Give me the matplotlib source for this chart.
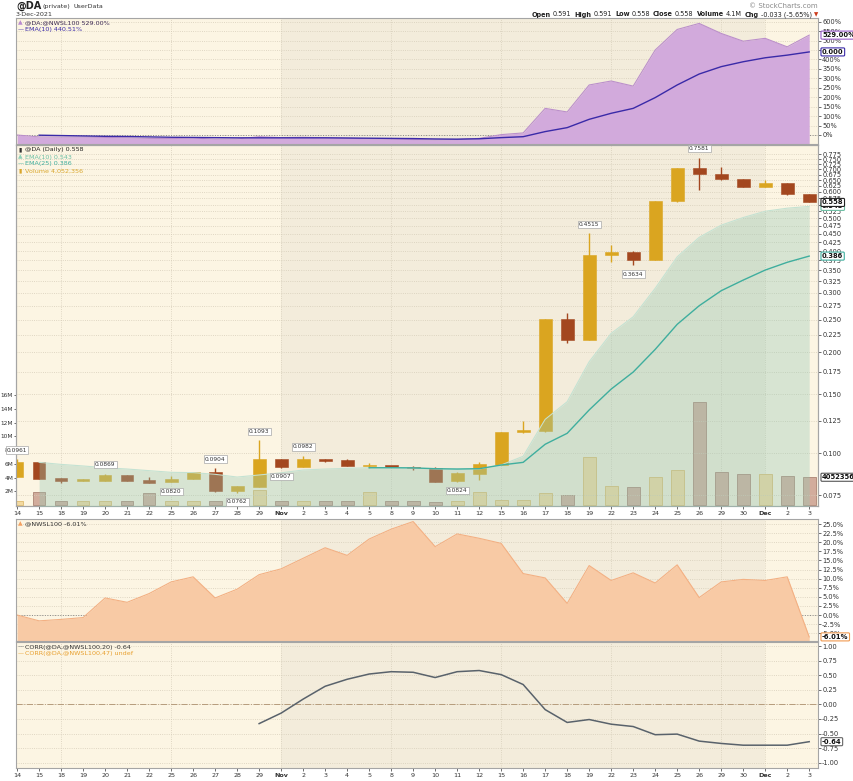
import matplotlib
matplotlib.use('Agg')
import matplotlib.pyplot as plt
import numpy as np
from matplotlib.ticker import NullLocator

plt.rcParams['font.family'] = ['DejaVu Sans']
plt.rcParams['axes.unicode_minus'] = False

W, H = 854, 781
nan = float('nan')

# ---- values ----
days = ['14', '15', '18', '19', '20', '21', '22', '25', '26', '27', '28', '29',
        'Nov', '2', '3', '4', '5', '8', '9', '10', '11', '12', '15', '16', '17', '18', '19',
        '22', '23', '24', '25', '26', '29', '30',
        'Dec', '2', '3']

opens = [0.0852, 0.0944, 0.0843, 0.0829, 0.0829, 0.0862, 0.0833, 0.0821, 0.0838, 0.0878, 0.0770, 0.0796,
         0.0959, 0.0912, 0.0962, 0.0953, 0.0915, 0.0916, 0.0906, 0.0902, 0.0825, 0.0868, 0.0925, 0.1155,
         0.1165, 0.2510, 0.2175, 0.3890, 0.3980, 0.3760, 0.5620, 0.7050, 0.6770, 0.6550,
         0.6200, 0.6360, 0.5910]
highs = [0.0961, 0.0944, 0.0845, 0.0836, 0.0869, 0.0862, 0.0848, 0.0856, 0.0880, 0.0904, 0.0800, 0.1093,
         0.0960, 0.0982, 0.0965, 0.0962, 0.0934, 0.0916, 0.0917, 0.0912, 0.0882, 0.0944, 0.1158, 0.1250,
         0.2515, 0.2620, 0.4515, 0.4170, 0.3990, 0.5640, 0.7070, 0.7581, 0.7130, 0.6560,
         0.6500, 0.6370, 0.5910]
lows = [0.0850, 0.0837, 0.0818, 0.0826, 0.0828, 0.0828, 0.0815, 0.0820, 0.0836, 0.0768, 0.0762, 0.0795,
        0.0907, 0.0910, 0.0942, 0.0916, 0.0905, 0.0909, 0.0893, 0.0823, 0.0824, 0.0833, 0.0923, 0.1152,
        0.1160, 0.2125, 0.2170, 0.3720, 0.3634, 0.3750, 0.5600, 0.6090, 0.6520, 0.6190,
        0.6190, 0.5880, 0.5580]
closes = [0.0944, 0.0837, 0.0829, 0.0832, 0.0862, 0.0829, 0.0818, 0.0838, 0.0878, 0.0770, 0.0799, 0.0959,
          0.0912, 0.0962, 0.0948, 0.0917, 0.0918, 0.0910, 0.0902, 0.0824, 0.0872, 0.0927, 0.1155, 0.1172,
          0.2510, 0.2175, 0.3890, 0.3980, 0.3760, 0.5636, 0.7050, 0.6770, 0.6540, 0.6200,
          0.6360, 0.5920, 0.5580]
volume_m = [0.6, 1.85, 0.55, 0.55, 0.6, 0.55, 1.75, 0.6, 0.6, 0.55, 0.55, 2.2,
            0.6, 0.6, 0.6, 0.6, 1.95, 0.6, 0.6, 0.5, 0.6, 1.9, 0.8, 0.8, 1.7, 1.5, 6.95,
            2.8, 2.6, 4.05, 5.1, 15.0, 4.8, 4.5,
            4.5, 4.25, 4.05]
ema10_price = [nan, 0.0940, 0.0927, 0.0917, 0.0906, 0.0898, 0.0888, 0.0878, 0.0876, 0.0866, 0.0850, 0.0862,
               0.0875, 0.0892, 0.0898, 0.0902, 0.0906, 0.0906, 0.0904, 0.0898, 0.0896, 0.0898, 0.0923, 0.0980,
               0.1262, 0.1424, 0.1873, 0.2275, 0.2548, 0.3097, 0.3843, 0.4393, 0.4775, 0.5031,
               0.5253, 0.5364, 0.5430]
ema25_price = [nan] * 16 + [0.0906, 0.0906, 0.0905, 0.0900, 0.0898, 0.0900, 0.0923, 0.0940,
                            0.1064, 0.1147, 0.1346, 0.1553, 0.1745, 0.2038, 0.2420, 0.2749, 0.3047, 0.3277,
                            0.3510, 0.3702, 0.3863]
rel_perf = [0, -10, -11, -11, -13, -15, -18, -19, -16, -22, -21, -9,
            -14, -12, -15, -17, -20, -22, -24, -26, -24, -18, 2, 11,
            141, 122, 265, 286, 259, 450, 559, 591, 538, 497,
            512, 467, 529]
rel_ema10 = [nan, -1, -3, -5, -7, -8, -10, -12, -13, -14, -15, -15,
             -15, -15, -15, -16, -17, -18, -19, -21, -22, -20, -14, -9,
             18, 39, 83, 115, 141, 198, 265, 323, 362, 388,
             409, 423, 440]
nwsl_pct = [0.0, -1.6, -1.2, -0.7, 4.7, 3.5, 5.9, 9.1, 10.5, 4.7, 7.1, 11.1,
            12.7, 15.6, 18.5, 16.4, 20.9, 23.6, 25.7, 18.8, 22.3, 21.1, 19.7, 11.4,
            10.2, 3.2, 13.6, 9.5, 11.6, 8.8, 13.8, 4.8, 9.1, 9.8,
            9.5, 10.5, -6.01]
corr20 = [nan] * 11 + [-0.33, -0.15, 0.09, 0.31, 0.43, 0.52, 0.56, 0.55, 0.46, 0.56, 0.58, 0.51, 0.34,
                       -0.09, -0.31, -0.26, -0.34, -0.38, -0.52, -0.51, -0.63, -0.67, -0.70,
                       -0.70, -0.70, -0.64]
# highs (h) / lows (l) that carry a price flag
flags = [(0, 'h'), (4, 'h'), (7, 'l'), (9, 'h'), (10, 'l'), (11, 'h'), (12, 'l'), (13, 'h'),
         (20, 'l'), (26, 'h'), (28, 'l'), (31, 'h')]

x = np.arange(len(days))
LIGHT, DARK = '#fcf5e3', '#f3ecdb'
GOLD, BROWN = '#daa520', '#a3471f'
TS = 4.8  # tick font size

fig = plt.figure(figsize=(W / 100, H / 100), dpi=100)
fig.patch.set_facecolor('white')


def panel(top, bot, shade=True):
    ax = fig.add_axes([16 / W, 1 - bot / H, 802 / W, (bot - top) / H])
    ax.set_facecolor(LIGHT)
    if shade:
        ax.axvspan(12, 34, color=DARK, lw=0, zorder=0)
        for m in [2, 7, 12, 17, 22, 27, 32, 34]:
            ax.axvline(m, color='#d6cdb9', ls=':', lw=0.6, zorder=0.5)
    ax.set_xlim(-0.05, 36.4)
    for s in ax.spines.values():
        s.set_color('#a5a5a5')
        s.set_linewidth(0.8)
    ax.tick_params(labelsize=TS, colors='#333', length=2, width=0.5, pad=1)
    ax.yaxis.tick_right()
    ax.set_axisbelow(True)
    return ax


def legend_row(ax, i, icon, icon_col, text, text_col):
    ax.annotate(icon, xy=(0, 1), xycoords='axes fraction', xytext=(2, -5 - 7 * i),
                textcoords='offset pixels', fontsize=4.3, color=icon_col, va='center', zorder=12)
    ax.annotate(text, xy=(0, 1), xycoords='axes fraction', xytext=(9, -5 - 7 * i),
                textcoords='offset pixels', fontsize=4.6, color=text_col, va='center', zorder=12)


def value_box(ax, y, text, ec, trans=None):
    ax.annotate(text, xy=(1, y), xycoords=trans or ax.get_yaxis_transform(), xytext=(4, 0),
                textcoords='offset pixels', ha='left', va='center', fontsize=4.9, fontweight='bold',
                color='#111', annotation_clip=False, zorder=12,
                bbox=dict(boxstyle='round,pad=0.15', fc='white', ec=ec, lw=0.8))


def day_labels(ax):
    ax.set_xticks(x, days)
    for lab in ax.get_xticklabels():
        lab.set_fontsize(4.6)
        if lab.get_text() in ('Nov', 'Dec'):
            lab.set_fontweight('bold')
    ax.tick_params(axis='x', length=2, pad=1.5)


# ---- panel 1: @DA:@NWSL100 ----
ax1 = panel(18, 144)
ax1.fill_between(x, rel_perf, -60, color='#d2aadc', lw=0, zorder=2)
ax1.plot(x, rel_perf, color='#bb8fcb', lw=0.8, zorder=2.5)
ax1.plot(x, rel_ema10, color='#3a2aa8', lw=1.0, zorder=3)
ax1.axhline(0, color='#888888', ls=':', lw=0.7, zorder=1)
ax1.set_ylim(-47.7, 619.7)
pct_ticks = np.arange(0, 601, 50)
ax1.set_yticks(pct_ticks, [f'{v}%' for v in pct_ticks])
ax1.grid(axis='y', ls=':', color='#d6cdb9', lw=0.6)
ax1.set_xticks([])
legend_row(ax1, 0, '▲', '#b98ad0', '@DA:@NWSL100 529.00%', '#3d2a55')
legend_row(ax1, 1, '—', '#3a2aa8', 'EMA(10) 440.51%', '#3a2aa8')
value_box(ax1, rel_ema10[-1], '0.000', '#3a2aa8')
value_box(ax1, rel_perf[-1], '529.00%', '#9a5cc8')

# ---- panel 2: price candles + volume ----
axv = panel(145, 506)
axv.yaxis.tick_left()
up = np.array(closes) >= np.array(opens)
vol_face = ['#f3d9a0' if u else '#d2ac9c' for u in up]
vol_edge = ['#e2c079' if u else '#b48e7e' for u in up]
axv.bar(x, np.array(volume_m) * 1e6, width=0.58, color=vol_face, edgecolor=vol_edge, lw=0.7, zorder=1)
axv.set_ylim(-0.146e6, 52.55e6)
vol_ticks = np.arange(2, 17, 2)
axv.set_yticks(vol_ticks * 1e6, [f'{v}M' for v in vol_ticks])
axv.tick_params(axis='y', labelsize=4.2, length=1.5, pad=0.5)
day_labels(axv)

axp = axv.twinx()
axp.set_xlim(-0.05, 36.4)
for s in axp.spines.values():
    s.set_color('#a5a5a5')
    s.set_linewidth(0.8)
axp.set_yscale('log')
cols = [GOLD if u else BROWN for u in up]
body_lo = np.minimum(opens, closes)
body_hi = np.maximum(np.maximum(opens, closes), body_lo * 1.011)
axp.vlines(x, lows, highs, colors=cols, lw=1.0, zorder=2)
axp.bar(x, body_hi - body_lo, bottom=body_lo, width=0.58, color=cols, edgecolor=cols, lw=0.4, zorder=2.1)
axp.fill_between(x, ema10_price, 0.05, color='#96c8b4', alpha=0.36, lw=0, zorder=3)
axp.plot(x, ema10_price, color='#c4e2d2', lw=0.8, zorder=3.2)
axp.plot(x, ema25_price, color='#3fae9e', lw=1.0, zorder=3.5)
axp.set_ylim(0.0697, 0.827)
price_ticks = np.arange(3, 32) * 0.025
axp.set_yticks(price_ticks, [f'{v:.3f}' for v in price_ticks])
axp.yaxis.set_minor_locator(NullLocator())
axp.tick_params(labelsize=TS, colors='#333', length=2, width=0.5, pad=1)
axp.grid(axis='y', ls=':', color='#d6cdb9', lw=0.6, zorder=0)
for i, kind in flags:
    v = highs[i] if kind == 'h' else lows[i]
    axp.annotate(f'{v:.4f}', xy=(x[i], v), xytext=(0, 9 if kind == 'h' else -9),
                 textcoords='offset pixels', ha='center', va='center', fontsize=4.2, color='#333',
                 zorder=8, annotation_clip=False,
                 bbox=dict(boxstyle='square,pad=0.2', fc='white', ec='#a8a8a8', lw=0.5))
legend_row(axp, 0, '▮', '#333333', '@DA (Daily) 0.558', '#222222')
legend_row(axp, 1, '▲', '#8fd0b8', 'EMA(10) 0.543', '#6cbfa4')
legend_row(axp, 2, '—', '#3fae9e', 'EMA(25) 0.386', '#3fae9e')
legend_row(axp, 3, '▮', '#d9a62c', 'Volume 4,052,356', '#d9a62c')
value_box(axp, ema25_price[-1], '0.386', '#3fae9e')
value_box(axp, ema10_price[-1], '0.543', '#6cbfa4')
value_box(axp, closes[-1], '0.558', '#222222')
value_box(axv, volume_m[-1] * 1e6, '4052356', '#555555')

# ---- panel 3: @NWSL100 ----
ax3 = panel(519, 641)
ax3.fill_between(x, nwsl_pct, -10, color='#f8caa5', lw=0, zorder=2)
ax3.plot(x, nwsl_pct, color='#f3b083', lw=0.8, zorder=2.5)
ax3.axhline(0, color='#8a8a8a', ls=':', lw=0.7, zorder=1)
ax3.set_ylim(-7.14, 26.4)
n_ticks = np.arange(-5, 25.1, 2.5)
ax3.set_yticks(n_ticks, [f'{v:.1f}%' for v in n_ticks])
ax3.grid(axis='y', ls=':', color='#d6cdb9', lw=0.6)
ax3.set_xticks([])
legend_row(ax3, 0, '▲', '#f4a060', '@NWSL100 -6.01%', '#333333')
value_box(ax3, nwsl_pct[-1], '-6.01%', '#f09a50')

# ---- panel 4: correlation ----
ax4 = panel(642, 768)
ax4.plot(x, corr20, color='#59626b', lw=1.1, zorder=3)
ax4.axhline(0, color='#b69c7c', ls='-.', lw=0.7, zorder=1)
ax4.set_ylim(-1.091, 1.069)
c_ticks = np.arange(-1, 1.01, 0.25)
ax4.set_yticks(c_ticks, [f'{v:.2f}' for v in c_ticks])
ax4.grid(axis='y', ls=':', color='#d6cdb9', lw=0.6)
day_labels(ax4)
legend_row(ax4, 0, '—', '#59626b', 'CORR(@DA,@NWSL100,20) -0.64', '#333333')
legend_row(ax4, 1, '—', '#e8a030', 'CORR(@DA,@NWSL100,47) undef', '#e8a030')
value_box(ax4, corr20[-1], '-0.64', '#666666')

# ---- header ----
fig.text(16 / W, 1 - 6 / H, '@DA', fontsize=7, fontweight='bold', va='center', color='#222')
fig.text(43 / W, 1 - 6.5 / H, '(private)', fontsize=4.6, va='center', color='#333')
fig.text(74 / W, 1 - 6.5 / H, 'UserData', fontsize=4.6, va='center', color='#333')
fig.text(16 / W, 1 - 14.5 / H, '3-Dec-2021', fontsize=4.6, va='center', color='#333')
fig.text(818 / W, 1 - 6 / H, '© StockCharts.com', fontsize=5, ha='right', va='center', color='#8a8a8a')

pieces = [('Open', 'bold'), ('0.591', 'normal'), ('High', 'bold'), ('0.591', 'normal'),
          ('Low', 'bold'), ('0.558', 'normal'), ('Close', 'bold'), ('0.558', 'normal'),
          ('Volume', 'bold'), ('4.1M', 'normal'), ('Chg', 'bold'), ('-0.033 (-5.65%)', 'normal')]
renderer = fig.canvas.get_renderer()
t = fig.text(818 / W, 1 - 14.5 / H, '▼', fontsize=4, ha='right', va='center', color='#cc3a1a')
xr = 818 - t.get_window_extent(renderer).width - 2
for txt, wt in reversed(pieces):
    t = fig.text(xr / W, 1 - 14.5 / H, txt, fontsize=4.7, fontweight=wt, ha='right', va='center',
                 color='#222')
    xr -= t.get_window_extent(renderer).width + (3 if wt == 'bold' else 2)

fig.savefig('out.png', dpi=100, facecolor='white')
